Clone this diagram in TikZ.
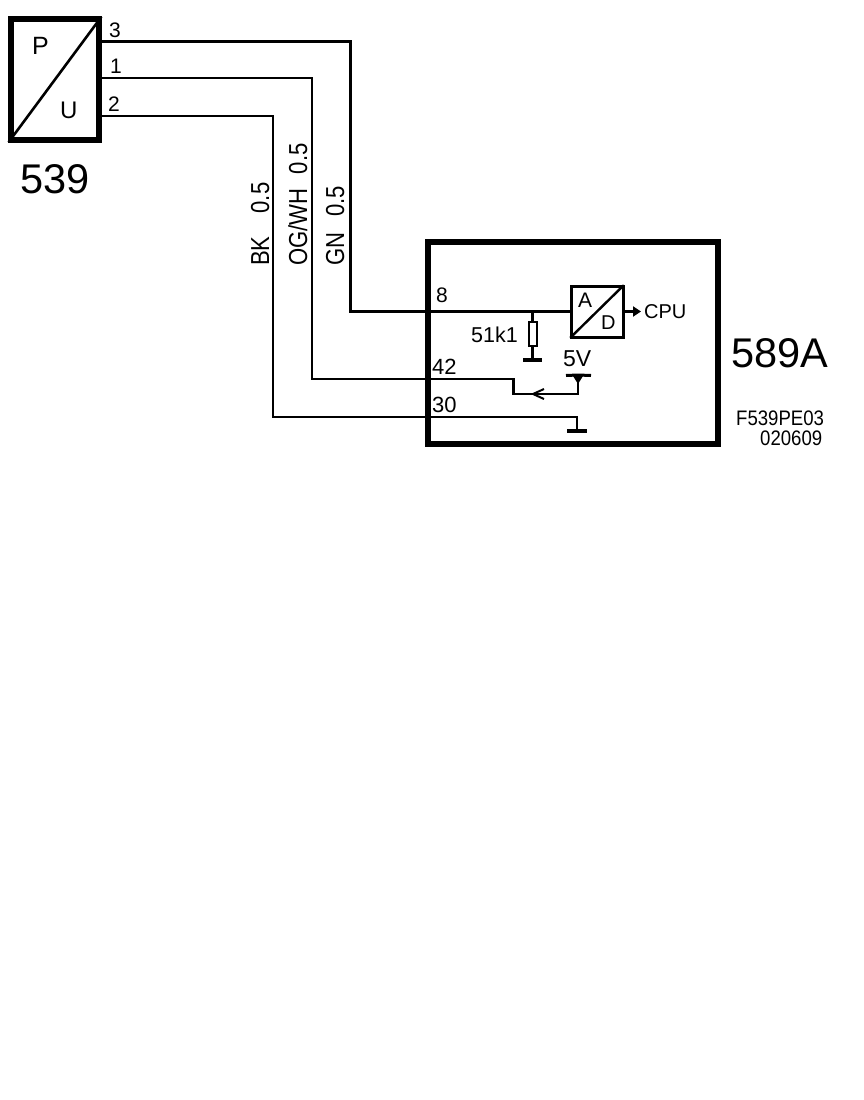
\documentclass[tikz,border=0pt]{standalone}
\usepackage{fontspec}
\usepackage{graphicx}
\setmainfont{Liberation Sans}
\usetikzlibrary{arrows.meta}
\newcommand{\fsz}[1]{\fontsize{#1}{#1}\selectfont}
\newcommand{\narrowtxt}[2]{\scalebox{#1}[1]{#2}}
\tikzset{
  x=1pt,y=-1pt,
  wire/.style={line width=2.5pt,line cap=rect,line join=miter},
  wirethick/.style={line width=3pt,line cap=rect,line join=miter},
  bigbox/.style={draw,line width=6pt,fill=white,inner sep=0pt},
  adbox/.style={draw,line width=3pt,fill=white,inner sep=0pt},
  resbox/.style={draw,line width=2pt,fill=white,inner sep=0pt,minimum width=8pt,minimum height=24pt},
  lab/.style={inner sep=0pt,anchor=base west,text=black},
  pinlab/.style={lab,font=\fsz{21}},
  symlab/.style={lab,font=\fsz{21.5}},
  biglab/.style={lab,font=\fsz{41.5}},
  codelab/.style={lab,font=\fsz{21}},
  vlab/.style={lab,rotate=90,font=\fsz{26}},
  gndbar/.style={line width=4pt},
  railbar/.style={line width=3pt},
  sig/.style={line width=3pt,-{Triangle[length=8pt,width=10pt]}},
  open/.style={line width=2pt}
}
\begin{document}
\begin{tikzpicture}
\useasboundingbox (0,0) rectangle (864,1100);
% boxes
\node[bigbox,minimum width=88pt,minimum height=121pt] (pu) at (55,79.5) {};
\node[bigbox,minimum width=290pt,minimum height=202pt] (ecu) at (572.5,343) {};
\node[adbox,minimum width=52pt,minimum height=51pt] (ad) at (597,311.5) {};
\node[resbox] (res) at (532.5,334) {};
% diagonals
\draw[line width=2.6pt,shorten <=1pt,shorten >=1pt] (pu.south west) -- (pu.north east);
\draw[line width=2.4pt,shorten <=1pt,shorten >=1pt] (ad.south west) -- (ad.north east);
% junctions
\coordinate (p3) at (102,41);
\coordinate (p1) at (102,78);
\coordinate (p2) at (102,116);
\coordinate (w3) at (350,41);
\coordinate (w3b) at (350,311);
\coordinate (w1) at (312,78);
\coordinate (w1b) at (312,379);
\coordinate (sw1) at (513.5,379);
\coordinate (sw2) at (513.5,394);
\coordinate (vcc) at (578,375);
\coordinate (vccd) at (578,394);
\coordinate (w2) at (273,116);
\coordinate (w2b) at (273,417);
\coordinate (gnd) at (577,417);
\coordinate (gndb) at (577,431);
\coordinate (rtop) at (532.5,311);
\coordinate (rgnd) at (532.5,359.5);
\coordinate (cpu) at (641,311.5);
\coordinate (tipa) at (533,394);
\coordinate (tipb) at (544,389);
\coordinate (tipc) at (544,399);
% wires
\draw[wirethick] (p3) -- (w3) -- (w3b) -- (ad.west |- w3b);
\draw[wire] (p1) -- (w1) -- (w1b) -- (sw1) -- (sw2) -- (vccd) -- (vcc);
\draw[wire] (p2) -- (w2) -- (w2b) -- (gnd) -- (gndb);
\draw[wire] (rtop) -- (res.north);
\draw[wire] (res.south) -- (rgnd);
\draw[sig] (ad.east) -- (cpu);
% ground and supply bars
\draw[gndbar] (523,359.5) -- (rgnd) -- (541.5,359.5);
\draw[gndbar] (567,431) -- (gndb) -- (587,431);
\draw[railbar] (566,375.5) -- (vcc) -- (591,375.5);
\fill (573,376) -- (583,376) -- (578,384) -- cycle;
% wiper arrow
\draw[open] (tipb) -- (tipa) -- (tipc);
% labels
\node[lab,font=\fsz{25}] (lp) at (32,54) {P};
\node[lab,font=\fsz{24}] (lu) at (60,118) {U};
\node[pinlab] (l3) at (109,37) {3};
\node[pinlab] (l1) at (110,73) {1};
\node[pinlab] (l2) at (108,111) {2};
\node[biglab] (n539) at (20,193) {539};
\node[biglab] (n589) at (731,367) {589A};
\node[pinlab] (l8) at (436,302) {8};
\node[lab,font=\fsz{22}] (l42) at (432,374) {42};
\node[lab,font=\fsz{22}] (l30) at (432,412) {30};
\node[symlab] (lr) at (471,342) {51k1};
\node[lab,font=\fsz{23}] (l5v) at (563,366) {5V};
\node[lab,font=\fsz{20}] (lcpu) at (644,318) {CPU};
\node[lab,font=\fsz{21}] (la) at (578,307) {A};
\node[lab,font=\fsz{20}] (ld) at (601,329) {D};
\node[codelab] (c1) at (736,425) {\narrowtxt{0.885}{F539PE03}};
\node[codelab] (c2) at (760,445) {\narrowtxt{0.885}{020609}};
\node[vlab] (v1) at (269,266) {\narrowtxt{0.85}{BK\hspace{27pt}0.5}};
\node[vlab] (v2) at (307,266) {\narrowtxt{0.85}{OG/WH\hspace{17pt}0.5}};
\node[vlab] (v3) at (344,266) {\narrowtxt{0.85}{GN\hspace{19pt}0.5}};
\end{tikzpicture}
\end{document}
